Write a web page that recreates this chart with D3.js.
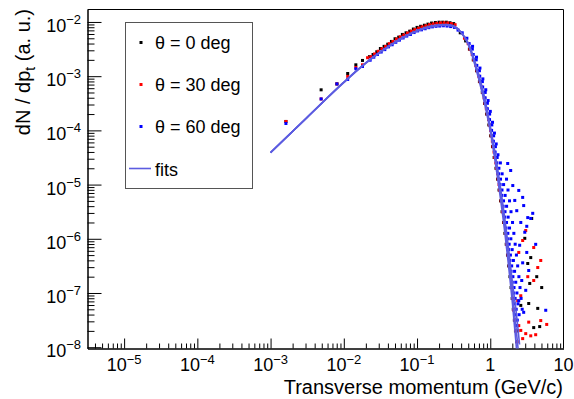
<!DOCTYPE html>
<html>
<head>
<meta charset="utf-8">
<script src="https://cdn.jsdelivr.net/npm/d3@7"></script>
<style>
body { margin: 0; background: #fff; }
text { font-family: "Liberation Sans", Arial, Helvetica, sans-serif; fill: #000; }
</style>
</head>
<body>
<svg id="chart" width="574" height="399"></svg>
<script>
// tick labels
const xMajor = [1e-5, 1e-4, 1e-3, 1e-2, 1e-1, 1, 10];
const xLabels = [["10", "\u22125"], ["10", "\u22124"], ["10", "\u22123"], ["10", "\u22122"], ["10", "\u22121"], ["1", ""], ["10", ""]];
const yMajor = [1e-8, 1e-7, 1e-6, 1e-5, 1e-4, 1e-3, 1e-2];
const yLabels = ["\u22128", "\u22127", "\u22126", "\u22125", "\u22124", "\u22123", "\u22122"];

const legendNames = ["\u03b8 = 0 deg", "\u03b8 = 30 deg", "\u03b8 = 60 deg"];
const colors = ["#000000", "#ff0000", "#0000ff"];

// measured points [pt (GeV/c), dN/dpt]
const black = [
  [0.00162,1.46e-4],[0.0049,5.6e-4],[0.00805,7.2e-4],[0.0113,1.12e-3],[0.0146,1.62e-3],[0.018,1.95e-3],
  [0.0224,2.29e-3],[0.0251,2.51e-3],[0.0282,2.82e-3],[0.0316,3.24e-3],[0.0355,3.55e-3],[0.0398,3.89e-3],
  [0.0447,4.37e-3],[0.0501,4.9e-3],[0.0562,5.25e-3],[0.0631,5.89e-3],[0.0708,6.31e-3],[0.0794,6.76e-3],
  [0.0891,7.41e-3],[0.1,7.94e-3],[0.112,8.32e-3],[0.126,8.71e-3],[0.141,9.12e-3],[0.158,9.55e-3],
  [0.178,9.77e-3],[0.2,9.9e-3],[0.224,9.9e-3],[0.251,9.9e-3],[0.282,9.66e-3],[0.316,9.33e-3],
  [0.389,6.31e-3],[0.461,4.47e-3],[0.519,3.16e-3],[0.586,2.0e-3],[0.649,1.26e-3],[0.711,7.94e-4],
  [0.778,5.01e-4],[0.834,3.16e-4],[0.893,2.0e-4],[0.957,1.26e-4],[1.014,7.94e-5],[1.072,5.01e-5],
  [1.13,3.16e-5],[1.197,2.0e-5],[1.259,1.26e-5],[1.318,7.94e-6],[1.384,5.01e-6],[1.449,3.16e-6],
  [1.521,2.0e-6],[1.585,1.26e-6],[1.652,7.94e-7],[1.718,5.01e-7],[1.786,3.16e-7],[1.858,2.0e-7],
  [1.923,1.26e-7],[1.991,7.94e-8],[2.061,5.01e-8],[2.133,3.16e-8],[2.208,2.0e-8],[2.291,1.26e-8],
  [3.68,2.37e-6],[2.96,1.02e-6],[3.57,4.5e-7],[3.25,3.5e-7],[4.31,2.0e-7],[5.04,1.26e-7],[3.46,1.5e-7],
  [4.45,5.2e-8],[3.35,6.4e-8],[3.92,2.3e-8],[4.73,2.4e-8],[2.61,5.9e-8],[2.37,2.0e-8]
];
const red = [
  [0.00162,1.46e-4],[0.0049,3.8e-4],[0.00805,7.2e-4],[0.0113,9.9e-4],[0.0146,1.45e-3],[0.018,1.62e-3],[0.0211,2.19e-3],
  [0.0234,2.29e-3],[0.0263,2.57e-3],[0.0295,2.88e-3],[0.0331,3.2e-3],[0.0372,3.55e-3],[0.0417,3.98e-3],
  [0.0468,4.37e-3],[0.0525,4.84e-3],[0.0589,5.31e-3],[0.0661,5.75e-3],[0.0741,6.24e-3],[0.0832,6.76e-3],
  [0.0933,7.24e-3],[0.105,7.67e-3],[0.117,8.13e-3],[0.132,8.51e-3],[0.148,8.91e-3],[0.166,9.23e-3],
  [0.186,9.44e-3],[0.209,9.6e-3],[0.234,9.66e-3],[0.263,9.6e-3],[0.295,9.33e-3],[0.331,8.91e-3],
  [0.444,5.01e-3],[0.527,3.16e-3],[0.596,2.0e-3],[0.659,1.26e-3],[0.723,7.94e-4],[0.791,5.01e-4],
  [0.847,3.16e-4],[0.908,2.0e-4],[0.973,1.26e-4],[1.03,7.94e-5],[1.089,5.01e-5],[1.151,3.16e-5],
  [1.216,2.0e-5],[1.279,1.26e-5],[1.34,7.94e-6],[1.406,5.01e-6],[1.472,3.16e-6],[1.545,2.0e-6],
  [1.611,1.26e-6],[1.679,7.94e-7],[1.746,5.01e-7],[1.816,3.16e-7],[1.888,2.0e-7],[1.954,1.26e-7],
  [2.023,7.94e-8],[2.094,5.01e-8],[2.168,3.16e-8],[2.244,2.0e-8],[2.328,1.26e-8],
  [0.499,3.98e-3],[0.566,2.51e-3],[0.634,1.58e-3],[0.695,1.0e-3],[0.762,6.31e-4],[0.824,3.98e-4],
  [0.883,2.51e-4],[0.946,1.58e-4],[1.009,1.0e-4],[1.067,6.31e-5],[1.127,3.98e-5],[1.191,2.51e-5],
  [1.259,1.58e-5],[1.318,1.0e-5],
  [3.05,1.42e-6],[3.92,6.9e-7],[4.89,3.98e-7],[4.45,2.95e-7],[3.25,2.0e-7],[3.92,1.7e-7],[5.9,2.63e-8],
  [4.89,3.1e-8],[2.61,2.04e-8],[3.05,1.78e-8],[3.57,1.62e-8],[4.17,1.7e-8],[2.77,1.44e-8],[2.45,2.5e-8],
  [3.35,2.9e-8],[2.37,7.2e-8],[2.61,8.9e-8],[2.09,4.8e-8],[2.77,9.3e-7],[2.45,5.6e-7]
];
const blue = [
  [0.00162,1.34e-4],[0.0049,3.8e-4],[0.00805,7.2e-4],[0.0113,8.7e-4],[0.0146,1.37e-3],[0.018,1.51e-3],
  [0.0229,1.97e-3],[0.0257,2.24e-3],[0.0288,2.51e-3],[0.0324,2.79e-3],[0.0363,3.09e-3],[0.0407,3.47e-3],
  [0.0457,3.8e-3],[0.0513,4.22e-3],[0.0575,4.62e-3],[0.0646,5.07e-3],[0.0724,5.5e-3],[0.0813,5.89e-3],
  [0.0912,6.38e-3],[0.102,6.84e-3],[0.115,7.16e-3],[0.129,7.5e-3],[0.145,7.85e-3],[0.162,8.13e-3],
  [0.182,8.32e-3],[0.204,8.41e-3],[0.229,8.51e-3],[0.257,8.41e-3],[0.288,8.22e-3],[0.324,7.94e-3],[0.363,7.08e-3],
  [0.414,6.31e-3],[0.479,5.01e-3],[0.515,3.98e-3],[0.569,3.16e-3],[0.585,2.51e-3],[0.643,2.0e-3],
  [0.655,1.58e-3],[0.711,1.26e-3],[0.718,1.0e-3],[0.78,7.94e-4],[0.787,6.31e-4],[0.853,5.01e-4],
  [0.851,3.98e-4],[0.914,3.16e-4],[0.912,2.51e-4],[0.98,2.0e-4],[0.977,1.58e-4],[1.05,1.26e-4],
  [1.042,1.0e-4],[1.112,7.94e-5],[1.102,6.31e-5],[1.175,5.01e-5],[1.164,3.98e-5],[1.242,3.16e-5],
  [1.23,2.51e-5],[1.312,2.0e-5],[1.3,1.58e-5],[1.38,1.26e-5],[1.361,1.0e-5],[1.445,7.94e-6],
  [1.429,6.31e-6],[1.517,5.01e-6],[1.496,3.98e-6],[1.589,3.16e-6],[1.57,2.51e-6],[1.667,2.0e-6],
  [1.641,1.58e-6],[1.738,1.26e-6],[1.71,1.0e-6],[1.811,7.94e-7],[1.782,6.31e-7],[1.884,5.01e-7],
  [1.854,3.98e-7],[1.959,3.16e-7],[1.923,2.51e-7],[2.037,2.0e-7],[1.995,1.58e-7],[2.109,1.26e-7],
  [2.07,1.0e-7],[2.183,7.94e-8],[2.143,6.31e-8],[2.26,5.01e-8],[2.218,3.98e-8],[2.339,3.16e-8],[2.296,2.51e-8],
  [0.573,3.55e-3],[0.649,2.24e-3],[0.723,1.41e-3],[0.792,8.91e-4],[0.868,5.62e-4],[0.934,3.55e-4],
  [1.001,2.24e-4],[1.073,1.41e-4],[1.14,8.91e-5],[1.205,5.62e-5],[1.274,3.55e-5],
  [1.374,2.51e-5],[1.452,1.58e-5],[1.521,1.0e-5],[1.596,6.31e-6],[1.671,3.98e-6],[1.754,2.51e-6],
  [1.832,1.58e-6],[1.91,1.0e-6],[1.991,6.31e-7],[2.07,3.98e-7],[2.148,2.51e-7],[2.228,1.58e-7],
  [2.312,1.0e-7],[2.393,6.31e-8],[2.477,3.98e-8],
  [1.667,1.26e-5],[1.746,7.94e-6],[1.832,5.01e-6],[1.919,3.16e-6],[2.014,2.0e-6],[2.099,1.26e-6],
  [2.188,7.94e-7],[2.275,5.01e-7],[2.366,3.16e-7],[2.46,2.0e-7],[2.547,1.26e-7],[2.636,7.94e-8],[2.729,5.01e-8],
  [2.03,9.6e-6],[2.45,7.8e-6],[2.3,3.3e-6],[2.61,2.0e-6],[2.96,1.32e-6],[2.52,7.6e-7],[3.15,5.6e-7],
  [2.77,3.6e-7],[3.35,2.6e-7],[2.69,1.7e-7],[3.05,1.12e-7],[2.45,7.2e-8],[2.86,4.4e-8],[1.9,1.82e-5],[2.16,5.1e-6],
  [1.73,2.45e-5],[2.77,5.8e-6],[2.86,4.1e-6],[3.8,2.95e-6],[3.25,2.46e-6],[3.57,2.37e-6],[3.15,1.7e-6],
  [4.17,7.9e-7],[5.72,4.8e-8]
];

// fit curves
const fitPt = [0.001,0.00316,0.01,0.0158,0.0251,0.0398,0.0631,0.1,0.158,0.2,0.251,0.316,0.398,0.501,0.631,0.794,1.0,1.259,1.585,1.778,1.995,2.239,2.512];
const fit0 = [3.89e-5,1.74e-4,7.76e-4,1.35e-3,2.24e-3,3.47e-3,5.13e-3,6.92e-3,8.51e-3,8.91e-3,9.0e-3,8.51e-3,6.46e-3,3.8e-3,1.45e-3,4.27e-4,9.55e-5,1.32e-5,1.26e-6,3.16e-7,7.08e-8,1.26e-8,2.0e-9];
const fit30 = [3.89e-5,1.74e-4,7.76e-4,1.35e-3,2.24e-3,3.47e-3,5.13e-3,6.92e-3,8.32e-3,8.71e-3,8.81e-3,8.32e-3,6.46e-3,3.98e-3,1.58e-3,4.9e-4,1.07e-4,1.66e-5,1.74e-6,4.68e-7,1.12e-7,2.4e-8,5.0e-9];
const fit60 = [3.89e-5,1.74e-4,7.59e-4,1.32e-3,2.19e-3,3.39e-3,5.01e-3,6.76e-3,8.13e-3,8.51e-3,8.61e-3,8.13e-3,6.46e-3,4.07e-3,1.7e-3,5.5e-4,1.2e-4,2.0e-5,2.29e-6,6.61e-7,1.66e-7,5.01e-8,1.12e-8];
const fitColor = "#5c5ce0";

const svg = d3.select("#chart");
const pLeft = 87.5, pRight = 563.5, pTop = 9.5, pBottom = 348.5;

const x = d3.scaleLog().domain([Math.pow(10, -5.5), 10]).range([pLeft, pRight]);
const y = d3.scaleLog().domain([Math.pow(10, -8.024), Math.pow(10, -1.77)]).range([pBottom, pTop]);

svg.append("clipPath").attr("id", "clip")
  .append("rect").attr("x", pLeft).attr("y", pTop).attr("width", pRight - pLeft).attr("height", pBottom - pTop);

// minor tick positions
function minors(scale) {
  const [a, b] = scale.domain();
  const out = [];
  for (let e = -9; e <= 1; e++) {
    for (let m = 2; m <= 9; m++) {
      const v = m * Math.pow(10, e);
      if (v >= a && v <= b) out.push(v);
    }
  }
  return out;
}

// x axis
svg.append("g").attr("transform", `translate(0,${pBottom})`)
  .call(d3.axisBottom(x).tickValues(minors(x)).tickSizeInner(-5).tickSizeOuter(0).tickFormat(""));
svg.append("g").attr("transform", `translate(0,${pBottom})`)
  .call(d3.axisBottom(x).tickValues(xMajor.filter(v => v < 10)).tickSizeInner(-10).tickSizeOuter(0).tickFormat(""));

// y axis
svg.append("g").attr("transform", `translate(${pLeft},0)`)
  .call(d3.axisLeft(y).tickValues(minors(y)).tickSizeInner(-7).tickSizeOuter(0).tickFormat(""));
svg.append("g").attr("transform", `translate(${pLeft},0)`)
  .call(d3.axisLeft(y).tickValues(yMajor).tickSizeInner(-14).tickSizeOuter(0).tickFormat(""));

svg.selectAll(".domain, .tick line").attr("stroke", "#000").attr("stroke-width", 1);

// frame top/right
svg.append("path")
  .attr("d", `M${pLeft},${pTop}H${pRight}V${pBottom}`)
  .attr("fill", "none").attr("stroke", "#000");

// x tick labels
xMajor.forEach((v, i) => {
  const t = svg.append("text")
    .attr("x", x(v)).attr("y", 371)
    .attr("text-anchor", "middle")
    .attr("font-size", 18);
  t.append("tspan").text(xLabels[i][0]);
  if (xLabels[i][1]) {
    t.append("tspan").attr("dy", -7.5).attr("font-size", 13).text(xLabels[i][1]);
  }
});

// y tick labels
yMajor.forEach((v, i) => {
  const t = svg.append("text")
    .attr("x", 81).attr("y", y(v) + 10)
    .attr("text-anchor", "end")
    .attr("font-size", 18);
  t.append("tspan").text("10");
  t.append("tspan").attr("dy", -8).attr("font-size", 13).text(yLabels[i]);
});

// axis titles
svg.append("text")
  .attr("x", 563).attr("y", 394)
  .attr("text-anchor", "end")
  .attr("font-size", 20)
  .text("Transverse momentum (GeV/c)");

const yt = svg.append("text")
  .attr("transform", "translate(30,9) rotate(-90)")
  .attr("text-anchor", "end")
  .attr("font-size", 20);
yt.append("tspan").text("dN / dp");
yt.append("tspan").attr("dy", 5).attr("font-size", 14).text("t");
yt.append("tspan").attr("dy", -5).text(" (a. u.)");

// points
const plot = svg.append("g").attr("clip-path", "url(#clip)");
[black, red, blue].forEach((series, i) => {
  plot.append("g").selectAll("rect")
    .data(series)
    .enter()
    .append("rect")
    .attr("x", d => x(d[0]) - 1.5)
    .attr("y", d => y(d[1]) - 1.5)
    .attr("width", 3)
    .attr("height", 3)
    .attr("fill", colors[i]);
});

// fits
const line = d3.line()
  .x(d => x(d[0]))
  .y(d => y(d[1]))
  .curve(d3.curveMonotoneX);
[fit0, fit30, fit60].forEach(f => {
  plot.append("path")
    .datum(fitPt.map((p, j) => [p, f[j]]))
    .attr("d", line)
    .attr("fill", "none")
    .attr("stroke", fitColor)
    .attr("stroke-width", 1.6);
});

// legend
const lg = svg.append("g");
lg.append("rect")
  .attr("x", 125.5).attr("y", 22.5).attr("width", 127).attr("height", 166)
  .attr("fill", "#fff").attr("stroke", "#555");
const rowY = [42.5, 84.5, 126.5];
legendNames.forEach((name, i) => {
  lg.append("rect").attr("x", 139.5).attr("y", rowY[i] - 1.5).attr("width", 3).attr("height", 3).attr("fill", colors[i]);
  lg.append("text").attr("x", 155).attr("y", rowY[i] + 6.5).attr("font-size", 18).text(name);
});
lg.append("line").attr("x1", 129).attr("x2", 151).attr("y1", 168.5).attr("y2", 168.5)
  .attr("stroke", fitColor).attr("stroke-width", 1.6);
lg.append("text").attr("x", 155).attr("y", 176).attr("font-size", 18).text("fits");
</script>
</body>
</html>
